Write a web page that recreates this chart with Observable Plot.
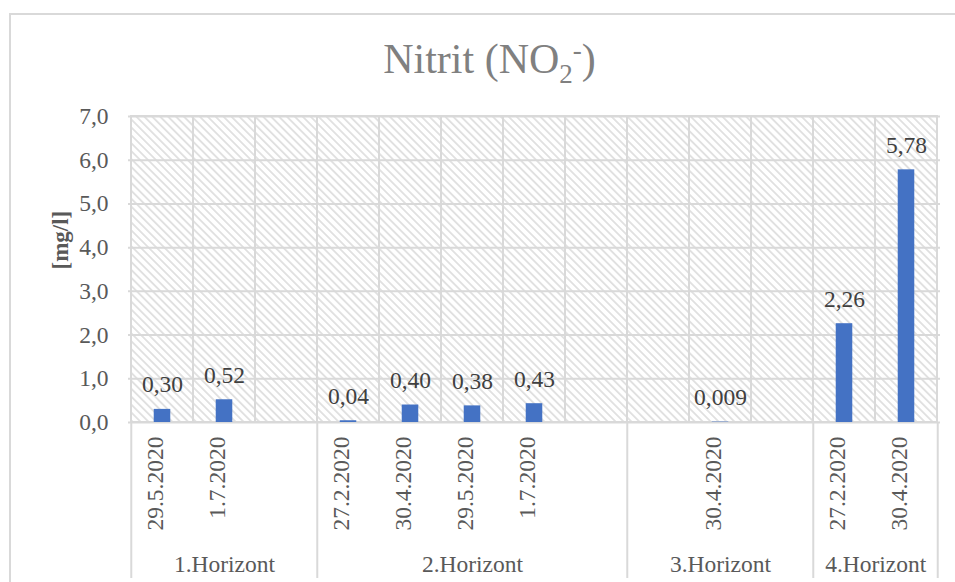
<!DOCTYPE html>
<html>
<head>
<meta charset="utf-8">
<script src="https://cdn.jsdelivr.net/npm/d3@7"></script>
<script src="https://cdn.jsdelivr.net/npm/@observablehq/plot@0.6"></script>
<style>
  html, body { margin: 0; padding: 0; background: #fff; }
  body { width: 955px; height: 582px; overflow: hidden; position: relative; }
  #chart { position: absolute; left: 0; top: 0; }
  #border { position: absolute; left: 9px; top: 13px; width: 1100px; height: 1100px;
            border: 2px solid #d9d9d9; pointer-events: none; }
</style>
</head>
<body>
<div id="chart"></div>
<div id="border"></div>
<script>
// ---- data ----
const slots = ["1a","1b","1c","2a","2b","2c","2d","2e","3a","3b","3c","4a","4b"];
const dateLabels = ["29.5.2020","1.7.2020","","27.2.2020","30.4.2020","29.5.2020","1.7.2020","","","30.4.2020","","27.2.2020","30.4.2020"];
const values = [0.30, 0.52, null, 0.04, 0.40, 0.38, 0.43, null, null, 0.009, null, 2.26, 5.78];
const valueLabels = ["0,30","0,52","","0,04","0,40","0,38","0,43","","","0,009","","2,26","5,78"];
const groups = ["1.Horizont","2.Horizont","3.Horizont","4.Horizont"];
const groupSizes = [3, 5, 3, 2];
const yTicks = [0, 1, 2, 3, 4, 5, 6, 7];

// ---- derived tables ----
const rows = slots.map((s, i) => ({slot: s, date: dateLabels[i], value: values[i], label: valueLabels[i]}));
const barRows = rows.filter(d => d.value != null);
const dateRows = rows.filter(d => d.date !== "");
let start = 0;
const groupInfo = groups.map((g, i) => {
  const n = groupSizes[i];
  const info = {name: g, first: slots[start], mid: slots[start + Math.floor((n - 1) / 2)], even: n % 2 === 0};
  start += n;
  return info;
});

const W = 955, H = 582;
const mL = 128, mR = 15, mT = 116, mB = 160;
const bw = (W - mL - mR) / slots.length;
const pxPerUnit = (H - mT - mB) / 7;
const sepBottom = -(156 / pxPerUnit);
const fs = 23.5;
const grid = "#d9d9d9";
const txt = "#595959";

const marks = [
  // hatched slot cells with grid borders
  Plot.barY(slots, {x: d => d, y1: 0, y2: 7, fill: "url(#hatch)", stroke: grid, strokeWidth: 2}),
  Plot.gridY(yTicks, {stroke: grid, strokeOpacity: 1, strokeWidth: 2}),
  // group separators below the axis
  Plot.ruleX(groupInfo, {x: "first", dx: -bw / 2, y1: 0, y2: sepBottom, stroke: grid, strokeWidth: 2}),
  Plot.ruleX([slots[slots.length - 1]], {x: d => d, dx: bw / 2, y1: 0, y2: sepBottom, stroke: grid, strokeWidth: 2}),
  // bars
  Plot.barY(barRows, {x: "slot", y: "value", fill: "#4472C4", insetLeft: (bw - 17) / 2, insetRight: (bw - 17) / 2}),
  // data labels
  Plot.text(barRows, {x: "slot", y: "value", text: "label", dy: -17, lineAnchor: "bottom", fontSize: fs, fill: "#404040"}),
  // y tick labels
  Plot.text(yTicks, {y: d => d, text: d => d.toFixed(1).replace(".", ","), frameAnchor: "left", textAnchor: "end", dx: -20, fontSize: fs, fill: txt}),
  // y label
  Plot.text(["[mg/l]"], {frameAnchor: "left", dx: -68, rotate: -90, text: d => d, fontWeight: "bold", fontSize: 23, fill: txt}),
  // date labels
  Plot.text(dateRows, {x: "slot", text: "date", rotate: -90, frameAnchor: "bottom", textAnchor: "end", dy: 14, fontSize: fs, fill: txt}),
  // group labels
  ...groupInfo.map(g => Plot.text([g], {x: "mid", text: "name", dx: g.even ? bw / 2 : 0, frameAnchor: "bottom", lineAnchor: "bottom", dy: 149, fontSize: fs, fill: txt}))
];

const plot = Plot.plot({
  width: W, height: H,
  marginLeft: mL, marginRight: mR, marginTop: mT, marginBottom: mB,
  x: {type: "band", domain: slots, padding: 0, axis: null},
  y: {domain: [0, 7], axis: null},
  style: {fontFamily: "'Liberation Serif', 'Times New Roman', serif", background: "transparent", overflow: "visible"},
  marks
});

const svg = d3.select(plot);
svg.insert("defs", ":first-child").html(
  '<pattern id="hatch" patternUnits="userSpaceOnUse" width="5.6" height="5.6" patternTransform="rotate(-45)">' +
  '<rect width="5.6" height="5.6" fill="#ffffff"/>' +
  '<line x1="2.8" y1="-1" x2="2.8" y2="7" stroke="#dedede" stroke-width="1.7"/></pattern>'
);

// title with subscript / superscript
const t = svg.append("text")
  .attr("x", 489.5).attr("y", 73)
  .attr("text-anchor", "middle")
  .attr("font-size", 42)
  .attr("fill", "#808080")
  .style("font-family", "'Liberation Serif', 'Times New Roman', serif");
t.append("tspan").text("Nitrit (NO");
t.append("tspan").attr("dy", 10).attr("font-size", 27).text("2");
t.append("tspan").attr("dy", -24).attr("font-size", 27).text("-");
t.append("tspan").attr("dy", 14).text(")");

document.getElementById("chart").appendChild(plot);
</script>
</body>
</html>
